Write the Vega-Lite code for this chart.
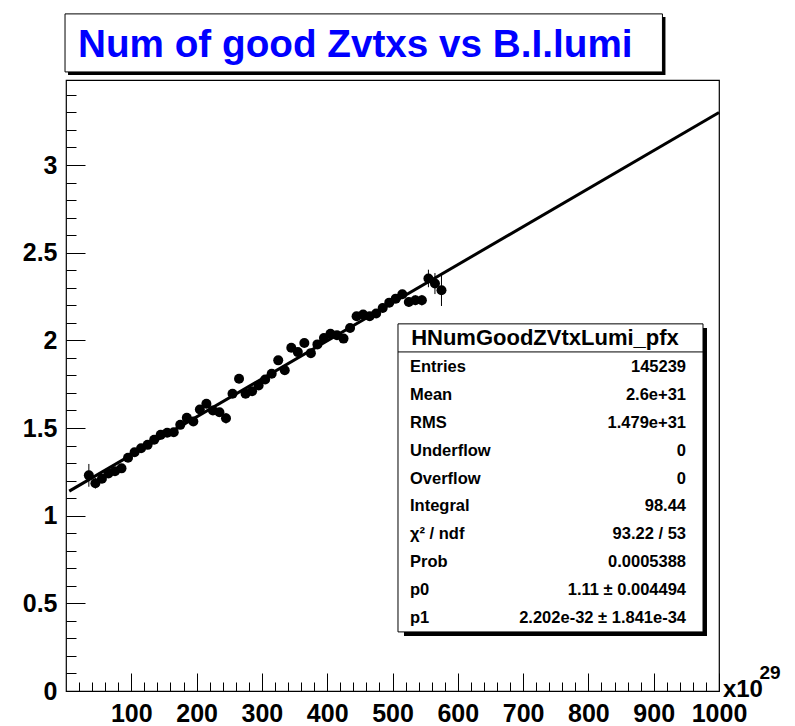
{
  "$schema": "https://vega.github.io/schema/vega-lite/v6.json",
  "width": 653,
  "height": 611,
  "autosize": "none",
  "padding": {"left": 66, "top": 80, "right": 76, "bottom": 35},
  "background": "white",
  "config": {
    "view": {"stroke": "black", "strokeWidth": 1.2},
    "font": "Liberation Sans",
    "text": {"font": "Liberation Sans", "fontWeight": "bold", "color": "black"}
  },
  "datasets": {
    "profile": [
      {"x": 35, "y": 1.230, "err": 0.065},
      {"x": 45, "y": 1.185, "err": 0.030},
      {"x": 55, "y": 1.211, "err": 0.020},
      {"x": 65, "y": 1.241, "err": 0.020},
      {"x": 75, "y": 1.253, "err": 0.018},
      {"x": 85, "y": 1.270, "err": 0.018},
      {"x": 95, "y": 1.330, "err": 0.018},
      {"x": 105, "y": 1.362, "err": 0.016},
      {"x": 115, "y": 1.385, "err": 0.016},
      {"x": 125, "y": 1.404, "err": 0.016},
      {"x": 135, "y": 1.433, "err": 0.016},
      {"x": 145, "y": 1.461, "err": 0.016},
      {"x": 155, "y": 1.473, "err": 0.016},
      {"x": 165, "y": 1.476, "err": 0.016},
      {"x": 175, "y": 1.518, "err": 0.016},
      {"x": 185, "y": 1.558, "err": 0.016},
      {"x": 195, "y": 1.537, "err": 0.018},
      {"x": 205, "y": 1.606, "err": 0.018},
      {"x": 215, "y": 1.638, "err": 0.018},
      {"x": 225, "y": 1.600, "err": 0.020},
      {"x": 235, "y": 1.590, "err": 0.020},
      {"x": 245, "y": 1.556, "err": 0.030},
      {"x": 255, "y": 1.695, "err": 0.022},
      {"x": 265, "y": 1.781, "err": 0.025},
      {"x": 275, "y": 1.695, "err": 0.020},
      {"x": 285, "y": 1.710, "err": 0.020},
      {"x": 295, "y": 1.743, "err": 0.020},
      {"x": 305, "y": 1.777, "err": 0.020},
      {"x": 315, "y": 1.810, "err": 0.020},
      {"x": 325, "y": 1.886, "err": 0.022},
      {"x": 335, "y": 1.829, "err": 0.022},
      {"x": 345, "y": 1.958, "err": 0.022},
      {"x": 355, "y": 1.933, "err": 0.022},
      {"x": 365, "y": 1.985, "err": 0.022},
      {"x": 375, "y": 1.927, "err": 0.022},
      {"x": 385, "y": 1.977, "err": 0.022},
      {"x": 395, "y": 2.013, "err": 0.022},
      {"x": 405, "y": 2.038, "err": 0.022},
      {"x": 415, "y": 2.029, "err": 0.022},
      {"x": 425, "y": 2.010, "err": 0.022},
      {"x": 435, "y": 2.070, "err": 0.022},
      {"x": 445, "y": 2.137, "err": 0.022},
      {"x": 455, "y": 2.147, "err": 0.022},
      {"x": 465, "y": 2.137, "err": 0.022},
      {"x": 475, "y": 2.153, "err": 0.022},
      {"x": 485, "y": 2.185, "err": 0.025},
      {"x": 495, "y": 2.215, "err": 0.025},
      {"x": 505, "y": 2.238, "err": 0.025},
      {"x": 515, "y": 2.263, "err": 0.025},
      {"x": 525, "y": 2.219, "err": 0.028},
      {"x": 535, "y": 2.229, "err": 0.028},
      {"x": 545, "y": 2.229, "err": 0.030},
      {"x": 555, "y": 2.353, "err": 0.050},
      {"x": 565, "y": 2.324, "err": 0.060},
      {"x": 575, "y": 2.286, "err": 0.090}
    ],
    "fit": [
      {"x": 5, "y": 1.14},
      {"x": 1000, "y": 3.30}
    ],
    "stats": [
      {"k": "Entries", "v": "145239"},
      {"k": "Mean", "v": "2.6e+31"},
      {"k": "RMS", "v": "1.479e+31"},
      {"k": "Underflow", "v": "0"},
      {"k": "Overflow", "v": "0"},
      {"k": "Integral", "v": "98.44"},
      {"k": "χ² / ndf", "v": "93.22 / 53"},
      {"k": "Prob", "v": "0.0005388"},
      {"k": "p0", "v": "1.11 ± 0.004494"},
      {"k": "p1", "v": "2.202e-32  ± 1.841e-34"}
    ]
  },
  "layer": [
    {
      "layer": [
        {
          "data": {"name": "profile"},
          "mark": {"type": "point", "filled": true, "color": "black", "size": 100, "opacity": 1},
          "encoding": {
            "x": {
              "field": "x", "type": "quantitative",
              "scale": {"domain": [0, 1000], "nice": false, "zero": false},
              "axis": {
                "title": null,
                "orient": "bottom",
                "values": [100,200,300,400,500,600,700,800,900,1000],
                "labelExpr": "'' + datum.value",
                "tickSize": -18,
                "tickColor": "black",
                "domain": false,
                "grid": false,
                "labelPadding": 28,
                "labelFont": "Liberation Sans",
                "labelFontWeight": "bold",
                "labelFontSize": 25,
                "labelColor": "black",
                "labelFlush": false,
                "labelOverlap": false,
                "labelBaseline": "top"
              }
            },
            "y": {
              "field": "y", "type": "quantitative",
              "scale": {"domain": [0, 3.485], "nice": false, "zero": false},
              "axis": {
                "title": null,
                "orient": "left",
                "values": [0,0.5,1,1.5,2,2.5,3],
                "labelExpr": "'' + datum.value",
                "tickSize": -19,
                "tickColor": "black",
                "domain": false,
                "grid": false,
                "labelPadding": 28,
                "labelFont": "Liberation Sans",
                "labelFontWeight": "bold",
                "labelFontSize": 25,
                "labelColor": "black",
                "labelFlush": false,
                "labelOverlap": false,
                "labelBaseline": "middle"
              }
            }
          }
        },
        {
          "data": {"name": "fit"},
          "mark": {"type": "line", "color": "black", "strokeWidth": 3},
          "encoding": {
            "x": {
              "field": "x", "type": "quantitative",
              "axis": {
                "title": null,
                "orient": "bottom",
                "values": [20,40,60,80,120,140,160,180,220,240,260,280,320,340,360,380,420,440,460,480,520,540,560,580,620,640,660,680,720,740,760,780,820,840,860,880,920,940,960,980],
                "labels": false,
                "tickSize": -9,
                "tickColor": "black",
                "domain": false,
                "grid": false
              }
            },
            "y": {
              "field": "y", "type": "quantitative",
              "axis": {
                "title": null,
                "orient": "left",
                "values": [0.1,0.2,0.3,0.4,0.6,0.7,0.8,0.9,1.1,1.2,1.3,1.4,1.6,1.7,1.8,1.9,2.1,2.2,2.3,2.4,2.6,2.7,2.8,2.9,3.1,3.2,3.3,3.4],
                "labels": false,
                "tickSize": -10,
                "tickColor": "black",
                "domain": false,
                "grid": false
              }
            }
          }
        },
        {
          "data": {"name": "profile"},
          "mark": {"type": "errorbar", "ticks": false, "color": "black", "thickness": 1},
          "encoding": {
            "x": {"field": "x", "type": "quantitative", "axis": null},
            "y": {"field": "y", "type": "quantitative", "axis": null},
            "yError": {"field": "err"}
          }
        },
        {
          "data": {"values": [{}]},
          "mark": {"type": "rect", "color": "black"},
          "encoding": {
            "x": {"datum": 3.1, "type": "quantitative", "axis": null}, "x2": {"datum": 918},
            "y": {"datum": 3.845, "type": "quantitative", "axis": null}, "y2": {"datum": 3.514}
          }
        },
        {
          "data": {"values": [{}]},
          "mark": {"type": "rect", "fill": "white", "stroke": "black", "strokeWidth": 1},
          "encoding": {
            "x": {"datum": -1.5, "type": "quantitative", "axis": null}, "x2": {"datum": 913.4},
            "y": {"datum": 3.862, "type": "quantitative", "axis": null}, "y2": {"datum": 3.531}
          }
        },
        {
          "data": {"values": [{}]},
          "mark": {"type": "text", "align": "left", "baseline": "alphabetic", "fontSize": 38.7, "fontWeight": "bold", "color": "#0000ff", "font": "Liberation Sans"},
          "encoding": {
            "x": {"datum": 18.4, "type": "quantitative", "axis": null},
            "y": {"datum": 3.617, "type": "quantitative", "axis": null},
            "text": {"value": "Num of good Zvtxs vs B.I.lumi"}
          }
        },
        {
          "data": {"values": [{}]},
          "mark": {"type": "rect", "color": "black"},
          "encoding": {
            "x": {"datum": 517.6, "type": "quantitative", "axis": null}, "x2": {"datum": 981.6},
            "y": {"datum": 2.071, "type": "quantitative", "axis": null}, "y2": {"datum": 0.314}
          }
        },
        {
          "data": {"values": [{}]},
          "mark": {"type": "rect", "fill": "white", "stroke": "black", "strokeWidth": 1},
          "encoding": {
            "x": {"datum": 508.4, "type": "quantitative", "axis": null}, "x2": {"datum": 975.5},
            "y": {"datum": 2.094, "type": "quantitative", "axis": null}, "y2": {"datum": 0.337}
          }
        },
        {
          "data": {"values": [{}]},
          "mark": {"type": "rule", "color": "black", "strokeWidth": 1},
          "encoding": {
            "x": {"datum": 508.4, "type": "quantitative", "axis": null}, "x2": {"datum": 975.5},
            "y": {"datum": 1.934, "type": "quantitative", "axis": null}
          }
        },
        {
          "data": {"values": [{}]},
          "mark": {"type": "text", "align": "center", "baseline": "middle", "fontSize": 22, "fontWeight": "bold", "font": "Liberation Sans", "color": "black"},
          "encoding": {
            "x": {"datum": 733.5, "type": "quantitative", "axis": null},
            "y": {"datum": 2.014, "type": "quantitative", "axis": null},
            "text": {"value": "HNumGoodZVtxLumi_pfx"}
          }
        },
        {
          "data": {"values": [{}]},
          "mark": {"type": "text", "align": "left", "baseline": "alphabetic", "fontSize": 24, "fontWeight": "bold", "font": "Liberation Sans", "color": "black"},
          "encoding": {
            "x": {"datum": 1006, "type": "quantitative", "axis": null},
            "y": {"datum": -0.032, "type": "quantitative", "axis": null},
            "text": {"value": "x10"}
          }
        },
        {
          "data": {"values": [{}]},
          "mark": {"type": "text", "align": "left", "baseline": "alphabetic", "fontSize": 19, "fontWeight": "bold", "font": "Liberation Sans", "color": "black"},
          "encoding": {
            "x": {"datum": 1062, "type": "quantitative", "axis": null},
            "y": {"datum": 0.068, "type": "quantitative", "axis": null},
            "text": {"value": "29"}
          }
        }
      ],
      "resolve": {"axis": {"x": "independent", "y": "independent"}}
    },
    {
      "data": {"name": "stats"},
      "encoding": {
        "y": {"field": "k", "type": "ordinal", "sort": null, "scale": {"type": "point", "range": [287, 538], "padding": 0}, "axis": null}
      },
      "layer": [
        {
          "mark": {"type": "text", "align": "left", "baseline": "middle", "fontSize": 16.5, "fontWeight": "bold", "font": "Liberation Sans", "color": "black"},
          "encoding": {
            "x": {"datum": 526.8, "type": "quantitative", "axis": null},
            "text": {"field": "k"}
          }
        },
        {
          "mark": {"type": "text", "align": "right", "baseline": "middle", "fontSize": 16.5, "fontWeight": "bold", "font": "Liberation Sans", "color": "black"},
          "encoding": {
            "x": {"datum": 949.5, "type": "quantitative", "axis": null},
            "text": {"field": "v"}
          }
        }
      ]
    }
  ],
  "resolve": {"scale": {"y": "independent"}}
}
